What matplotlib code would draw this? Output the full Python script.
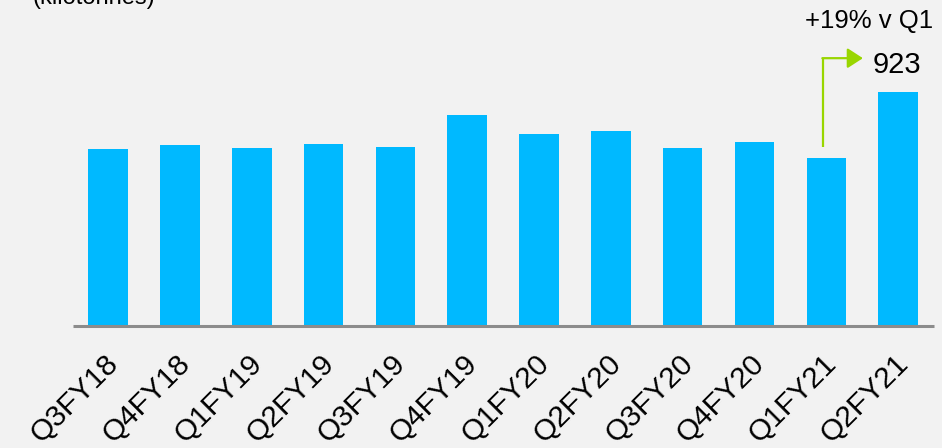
import matplotlib
matplotlib.use("Agg")
import matplotlib.pyplot as plt
from matplotlib.transforms import ScaledTranslation

plt.rcParams['font.family'] = ['Liberation Sans', 'DejaVu Sans']

categories = ["Q3FY18", "Q4FY18", "Q1FY19", "Q2FY19", "Q3FY19", "Q4FY19",
              "Q1FY20", "Q2FY20", "Q3FY20", "Q4FY20", "Q1FY21", "Q2FY21"]
values = [795, 804, 796, 806, 799, 870, 829, 835, 796, 810, 774, 923]
unit_label = "(kilotonnes)"
growth_label = "+19% v Q1"

BG = "#f2f2f2"
BAR = "#00b9ff"
GREEN = "#99d600"

W, H = 942, 448
fig = plt.figure(figsize=(W / 100, H / 100), dpi=100, facecolor=BG)
ax = fig.add_axes([73 / W, 122.5 / H, 861 / W, 325.5 / H])
ax.set_facecolor(BG)

x = list(range(len(categories)))
ax.bar(x, values, width=0.55, color=BAR, zorder=2)

ymin = 400
ymax = ymin + 325.5 * 2.237
ax.set_ylim(ymin, ymax)
ax.set_xlim(-0.49, len(categories) - 0.5)

for s in ["top", "right", "left"]:
    ax.spines[s].set_visible(False)
ax.spines["bottom"].set_color("#8c8c8c")
ax.spines["bottom"].set_linewidth(2.2)
ax.spines["bottom"].set_capstyle("butt")
ax.set_yticks([])
ax.set_xticks(x)
ax.set_xticklabels(categories, rotation=45, ha="right", va="top",
                   rotation_mode="anchor", fontsize=21.5)
ax.tick_params(axis="x", length=0, pad=10)
shift = ScaledTranslation(-4 / 100, -10 / 100, fig.dpi_scale_trans)
for lab in ax.get_xticklabels():
    lab.set_transform(lab.get_transform() + shift)

# unit label (cut off at top)
fig.text(33 / W, 1 - 4 / H, unit_label, fontsize=17, ha="left", va="baseline")

# growth annotation
q1 = values[-2]
q2 = values[-1]
xa = len(categories) - 2 - 0.045
ytop = q2 + 75
ax.plot([xa, xa], [q1 + 25, ytop], color=GREEN, lw=1.6, zorder=3,
        solid_capstyle="butt", clip_on=False)
ax.annotate("", xy=(len(categories) - 2 + 0.51, ytop), xytext=(xa - 0.01, ytop),
            arrowprops=dict(arrowstyle="-|>,head_length=9.4,head_width=6.1",
                            color=GREEN, lw=1.6, mutation_scale=1,
                            shrinkA=0, shrinkB=0),
            annotation_clip=False)
ax.text(len(categories) - 2 + 0.64, q2 + 41, f"{q2}", fontsize=21,
        ha="left", va="baseline")
ax.text(len(categories) - 1 + 0.49, q2 + 142, growth_label, fontsize=18.5,
        ha="right", va="baseline")

fig.savefig("out.png", dpi=100, facecolor=BG)
